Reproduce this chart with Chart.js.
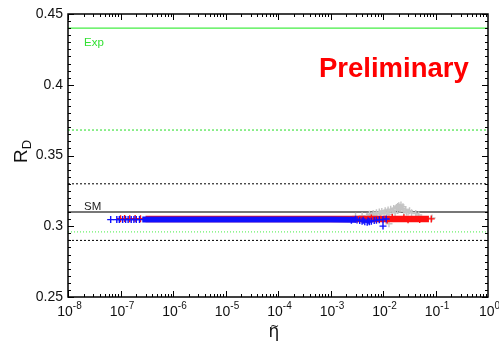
<!DOCTYPE html>
<html>
<head>
<meta charset="utf-8">
<script src="https://cdn.jsdelivr.net/npm/chart.js@4.4.0/dist/chart.umd.min.js"></script>
<style>
body{margin:0;background:#fff;}
#wrap{width:499px;height:342px;}
</style>
</head>
<body>
<div id="wrap"><canvas id="chart" width="499" height="342"></canvas></div>
<script>
// axis ranges and tick labels
const xMin = 1e-8, xMax = 1;
const yMin = 0.25, yMax = 0.45;
const xExponents = [-8,-7,-6,-5,-4,-3,-2,-1,0];
const yTickValues = [0.25,0.3,0.35,0.4,0.45];
const yTickLabels = ['0.25','0.3','0.35','0.4','0.45'];

// reference lines
const expValue = 0.440;
const expBand = [0.368, 0.296];
const smValue = 0.310;
const smBand = [0.330, 0.290];

// scan points
const blueBand = [[2.6e-7,0.3047],[1e-5,0.3047],[1e-3,0.3047],[3e-3,0.3046]];
const blueSparse = [[6.5e-8,0.3047],[8.5e-8,0.3047],[9.5e-8,0.3047],[1.1e-7,0.3047],[1.25e-7,0.3047],[1.4e-7,0.3047],[1.6e-7,0.3047],[1.8e-7,0.3047],[2.0e-7,0.3047],[2.3e-7,0.3047],
  [3.2e-3,0.3044],[3.6e-3,0.3040],[4e-3,0.3036],[4.5e-3,0.3032],[5e-3,0.3029],[5.5e-3,0.3031],[6e-3,0.3036],[6.8e-3,0.3040],[7.5e-3,0.3043],[8.5e-3,0.3046],[1e-2,0.3048],[1.15e-2,0.3051],[1e-2,0.3001],
  [2.5e-3,0.3042],[4.2e-3,0.3042],[5.2e-3,0.3038],[3e-3,0.3050]];
const redBand = [[3e-7,0.3052],[1e-4,0.3052],[1e-2,0.3052],[4e-2,0.3052],[7.5e-2,0.3052]];
const redSparse = [[1.0e-7,0.3053],[1.2e-7,0.3054],[1.5e-7,0.3053],[1.9e-7,0.3054],[2.4e-7,0.3053],[1.5e-2,0.3062],[2.5e-2,0.3060],[8.3e-2,0.3052],[6e-3,0.3058],[1.2e-2,0.3044],[3e-2,0.3046],[5e-2,0.3047]];
const greyPoints = [[3e-3,0.3070],[4e-3,0.3075],[5e-3,0.3070],[5.5e-3,0.3085],[6.5e-3,0.3090],[7.5e-3,0.3095],[8.5e-3,0.3100],[9.5e-3,0.3105],[1.1e-2,0.3110],[1.25e-2,0.3115],[1.4e-2,0.3120],[1.6e-2,0.3125],[1.8e-2,0.3132],[2.0e-2,0.3145],[2.2e-2,0.3150],[2.4e-2,0.3138],[2.7e-2,0.3115],[3.0e-2,0.3100],[3.5e-2,0.3095],[4.2e-2,0.3090],[1.3e-2,0.3085],[1.7e-2,0.3095],[2.1e-2,0.3120],[2.5e-2,0.3105],[1.3e-2,0.3018],[8.6e-2,0.3058],
  [6e-3,0.3075],[7e-3,0.3080],[9e-3,0.3088],[1.05e-2,0.3095],[1.2e-2,0.3100],[1.5e-2,0.3108],[1.9e-2,0.3112],[2.3e-2,0.3125],[1.9e-2,0.3140],[2.1e-2,0.3135],[2.8e-2,0.3100],[3.2e-2,0.3110],[4.8e-2,0.3080]];

const pts = a => a.map(p=>({x:p[0],y:p[1]}));
const hline = v => [{x:xMin,y:v},{x:xMax,y:v}];

function lineSet(v, color, width, dash){
  return {data:hline(v), showLine:true, pointRadius:0, borderColor:color, borderWidth:width, borderDash:dash||[], order:5};
}

const frame = {
  id:'frame',
  afterDraw(chart){
    const c = chart.ctx, a = chart.chartArea, xs = chart.scales.x, ys = chart.scales.y;
    c.save();
    c.strokeStyle = '#000'; c.lineWidth = 1;
    c.beginPath();
    // x ticks, top and bottom
    for(let e=-8;e<0;e++){
      for(let m=1;m<10;m++){
        const px = Math.round(xs.getPixelForValue(m*Math.pow(10,e)))+0.5;
        const len = m===1 ? 6 : 3;
        c.moveTo(px,a.bottom); c.lineTo(px,a.bottom-len);
        c.moveTo(px,a.top); c.lineTo(px,a.top+len);
      }
    }
    // y ticks, left and right
    for(let i=0;i<=40;i++){
      const v = yMin + i*0.005;
      const py = Math.round(ys.getPixelForValue(v))+0.5;
      const len = i%10===0 ? 6 : 3;
      c.moveTo(a.left,py); c.lineTo(a.left+len,py);
      c.moveTo(a.right,py); c.lineTo(a.right-len,py);
    }
    c.stroke();
    c.lineWidth = 1.5;
    c.strokeRect(a.left, a.top, a.right-a.left, a.bottom-a.top);

    // y tick labels
    c.fillStyle = '#111';
    c.font = '14px "Liberation Sans", Arial, sans-serif';
    c.textAlign = 'right'; c.textBaseline = 'middle';
    yTickValues.forEach((v,i)=> c.fillText(yTickLabels[i], 63, ys.getPixelForValue(v)));

    // x tick labels 10^n
    c.textBaseline = 'alphabetic'; c.textAlign = 'left';
    xExponents.forEach(e=>{
      const px = xs.getPixelForValue(Math.pow(10,e));
      const sup = e===0 ? '0' : String(e);
      c.font = '14px "Liberation Sans", Arial, sans-serif';
      const w1 = c.measureText('10').width;
      c.font = '10px "Liberation Sans", Arial, sans-serif';
      const w2 = c.measureText(sup).width;
      const x0 = px + 1.5 - (w1+w2)/2;
      c.font = '14px "Liberation Sans", Arial, sans-serif';
      c.fillText('10', x0, 316);
      c.font = '10px "Liberation Sans", Arial, sans-serif';
      c.fillText(sup, x0+w1, 309);
    });

    // axis titles
    c.font = '19px "Liberation Sans", Arial, sans-serif';
    c.save();
    c.translate(27, 163); c.rotate(-Math.PI/2);
    c.fillText('R', 0, 0);
    const wr = c.measureText('R').width;
    c.font = '13px "Liberation Sans", Arial, sans-serif';
    c.fillText('D', wr, 4);
    c.restore();

    c.textAlign = 'center';
    c.font = '17px "DejaVu Sans", sans-serif';
    c.fillText('η', 274, 337);
    c.font = '11px "DejaVu Sans", sans-serif';
    c.fillText('~', 274.5, 330);

    // annotations
    c.textAlign = 'left';
    c.fillStyle = '#33e033';
    c.font = '11.5px "Liberation Sans", Arial, sans-serif';
    c.fillText('Exp', 84, 46);
    c.fillStyle = '#222';
    c.font = '11.5px "Liberation Sans", Arial, sans-serif';
    c.fillText('SM', 84, 210);
    c.fillStyle = '#ff0000';
    c.font = 'bold 27.5px "Liberation Sans", Arial, sans-serif';
    c.fillText('Preliminary', 319, 77);
    c.restore();
  }
};

new Chart(document.getElementById('chart').getContext('2d'), {
  type:'scatter',
  data:{datasets:[
    {data:pts(blueSparse), pointStyle:'cross', pointRadius:3.5, borderColor:'#1010ff', borderWidth:1.4, order:0},
    {data:pts(blueBand), showLine:true, pointRadius:0, borderColor:'#1010ff', borderWidth:6, order:1},
    {data:pts(redSparse), pointStyle:'cross', pointRadius:3.5, borderColor:'#ff1010', borderWidth:1.4, order:2},
    {data:pts(redBand), showLine:true, pointRadius:0, borderColor:'#ff1010', borderWidth:6.5, order:3},
    {data:pts(greyPoints), pointStyle:'cross', pointRadius:3.5, borderColor:'#c4c4c4', borderWidth:1.4, order:4},
    lineSet(smValue, '#777', 2),
    lineSet(smBand[0], '#000', 1, [2,2]),
    lineSet(smBand[1], '#000', 1, [2,2]),
    lineSet(expValue, '#44ee44', 1.2),
    lineSet(expBand[0], '#22dd22', 1, [2,2]),
    lineSet(expBand[1], '#44ee44', 1, [1,2])
  ]},
  options:{
    responsive:false, animation:false,
    layout:{padding:{left:68,right:11,top:14,bottom:45}},
    plugins:{legend:{display:false},tooltip:{enabled:false}},
    elements:{line:{tension:0}},
    scales:{
      x:{type:'logarithmic', min:xMin, max:xMax, display:false},
      y:{type:'linear', min:yMin, max:yMax, display:false}
    }
  },
  plugins:[frame]
});
</script>
</body>
</html>
